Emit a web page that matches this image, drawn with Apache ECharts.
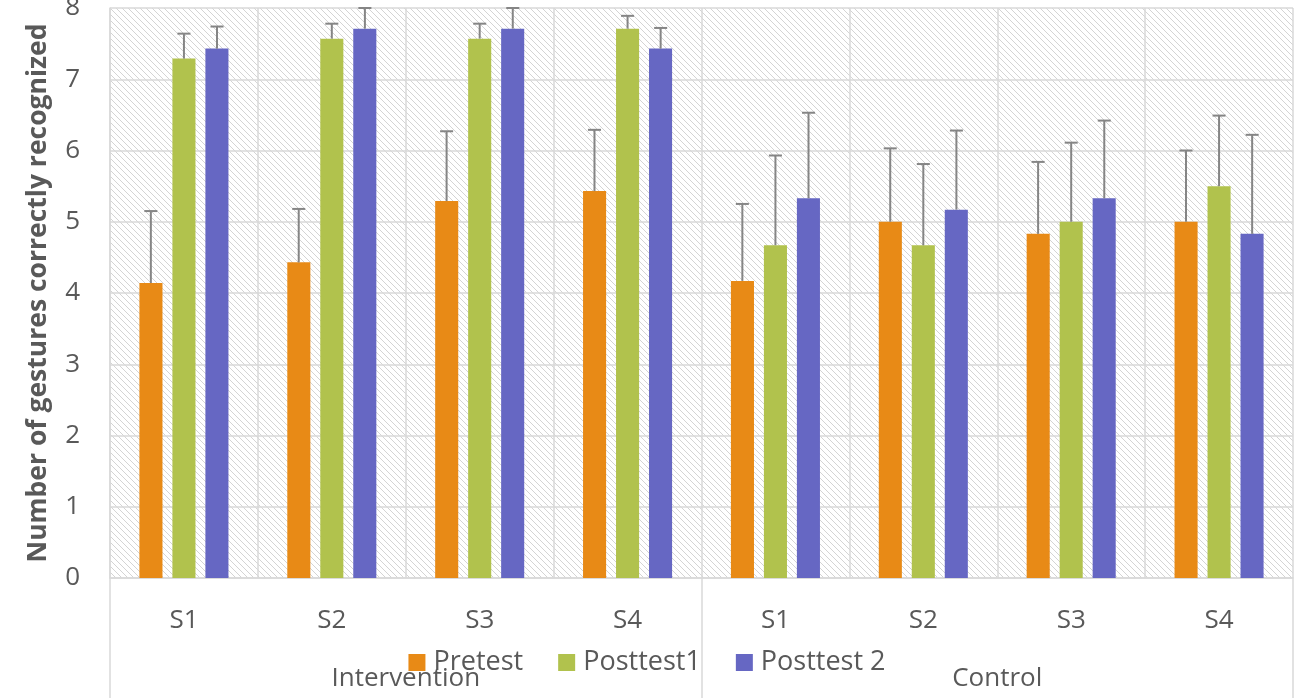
<!DOCTYPE html>
<html>
<head>
<meta charset="utf-8">
<script src="https://cdn.jsdelivr.net/npm/echarts@6/dist/echarts.min.js"></script>
<style>html,body{margin:0;padding:0;background:#fff;}#chart{width:1294px;height:698px;}</style>
</head>
<body>
<div id="chart"></div>
<script>
const categories = ['S1','S2','S3','S4','S1','S2','S3','S4'];
const groups = ['Intervention','Control'];
const seriesNames = ['Pretest','Posttest1','Posttest 2'];
const pretest   = [4.14, 4.43, 5.29, 5.43, 4.17, 5.00, 4.83, 5.00];
const posttest1 = [7.29, 7.57, 7.57, 7.71, 4.67, 4.67, 5.00, 5.50];
const posttest2 = [7.43, 7.71, 7.71, 7.43, 5.33, 5.17, 5.33, 4.83];
const pretestErr   = [1.01, 0.75, 0.98, 0.86, 1.08, 1.03, 1.01, 1.00];
const posttest1Err = [0.35, 0.21, 0.21, 0.18, 1.26, 1.14, 1.11, 0.99];
const posttest2Err = [0.31, 0.29, 0.29, 0.29, 1.20, 1.11, 1.09, 1.39];
const yTicks = [0,1,2,3,4,5,6,7,8];

const colors = ['#E88A16','#B1C24D','#6667C3'];
const values = [pretest, posttest1, posttest2];
const errs = [pretestErr, posttest1Err, posttest2Err];

// hatch pattern
const pc = document.createElement('canvas');
pc.width = 6; pc.height = 6;
const ctx = pc.getContext('2d');
ctx.fillStyle = '#ffffff'; ctx.fillRect(0,0,6,6);
ctx.strokeStyle = '#d4d4d4'; ctx.lineWidth = 1;
ctx.beginPath();
ctx.moveTo(0,0); ctx.lineTo(6,6);
ctx.moveTo(-3,3); ctx.lineTo(3,9);
ctx.moveTo(3,-3); ctx.lineTo(9,3);
ctx.stroke();

const font = 'Open Sans';
const txt = '#595959';
const gridColor = '#d9d9d9';

const series = [];
seriesNames.forEach((name, k) => {
  series.push({
    name: name, type: 'bar', xAxisIndex: 0,
    data: values[k], barWidth: '15.6%', barGap: '43%',
    itemStyle: {color: colors[k]}, z: 2
  });
});
seriesNames.forEach((name, k) => {
  series.push({
    name: name + ' err', type: 'custom', xAxisIndex: 0, z: 3,
    data: values[k].map((v, i) => [i, v, errs[k][i]]),
    encode: {x: 0, y: 1},
    renderItem: function (params, api) {
      const i = api.value(0), v = api.value(1), e = api.value(2);
      const band = api.size([1, 0])[0];
      const off = (k - 1) * band * 33 / 147.5;
      const p0 = api.coord([i, v]);
      const p1 = api.coord([i, v + e]);
      const x = p0[0] + off;
      const hw = band * 6.5 / 147.5;
      const st = {stroke: '#858585', lineWidth: 2};
      return {type: 'group', children: [
        {type: 'line', shape: {x1: x, y1: p0[1], x2: x, y2: p1[1]}, style: st},
        {type: 'line', shape: {x1: x - hw, y1: p1[1], x2: x + hw, y2: p1[1]}, style: st}
      ]};
    }
  });
});

const chart = echarts.init(document.getElementById('chart'));
chart.setOption({
  animation: false,
  backgroundColor: '#ffffff',
  textStyle: {fontFamily: font},
  grid: {left: 110, right: 1, top: 8, bottom: 120, show: true, containLabel: false,
    outerBoundsMode: 'none',
    backgroundColor: {image: pc, repeat: 'repeat'}, borderWidth: 0},
  legend: {
    data: seriesNames, left: 'center', top: 649, padding: 0,
    itemWidth: 17, itemHeight: 17, itemGap: 35,
    icon: 'rect',
    textStyle: {fontFamily: font, fontSize: 27, color: txt, lineHeight: 26, padding: [0, 0, 0, 3]}
  },
  xAxis: [
    {type: 'category', data: categories, position: 'bottom',
      axisLine: {show: true, lineStyle: {color: gridColor, width: 1.5}},
      axisTick: {show: false},
      splitLine: {show: true, lineStyle: {color: gridColor, width: 1.5}},
      axisLabel: {fontFamily: font, fontSize: 26, color: txt, margin: 30}},
    {type: 'category', data: groups, position: 'bottom',
      axisLine: {show: false},
      axisTick: {show: true, length: 120, lineStyle: {color: gridColor, width: 1.5}},
      axisLabel: {fontFamily: font, fontSize: 26, color: txt, margin: 88}}
  ],
  yAxis: {
    type: 'value', min: yTicks[0], max: yTicks[yTicks.length - 1], interval: 1,
    axisLine: {show: true, lineStyle: {color: gridColor, width: 1.5}},
    axisTick: {show: false},
    splitLine: {show: true, lineStyle: {color: gridColor, width: 1.5}},
    axisLabel: {fontFamily: font, fontSize: 26, color: txt, margin: 30},
    name: 'Number of gestures correctly recognized',
    nameLocation: 'middle', nameGap: 58,
    nameTextStyle: {fontFamily: font, fontSize: 26.5, fontWeight: 'bold', color: txt}
  },
  series: series
});
</script>
</body>
</html>
